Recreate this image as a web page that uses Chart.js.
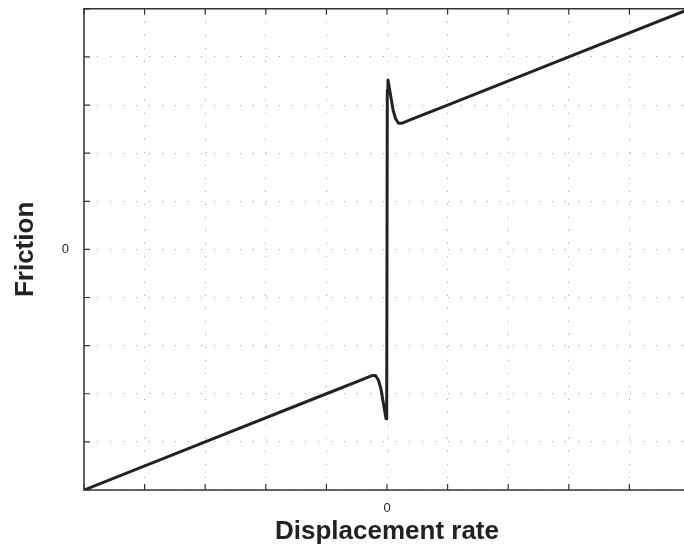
<!DOCTYPE html>
<html>
<head>
<meta charset="utf-8">
<script src="https://cdn.jsdelivr.net/npm/chart.js@4.4.0/dist/chart.umd.min.js"></script>
<style>
    html, body { margin: 0; padding: 0; background: #fff; overflow: hidden; }
    #wrap { position: relative; top: -14px; width: 701px; height: 563px; }
</style>
</head>
<body>
<div id="wrap"><canvas id="chart"></canvas></div>
<script>
// displacement rate (x) and friction (y)
const rateValues = [-5, -3, -1, -0.4, -0.24, -0.19, -0.14, -0.1, -0.066, -0.035, -0.016, -0.005,
    0.005, 0.016, 0.035, 0.066, 0.1, 0.14, 0.19, 0.24, 0.4, 1, 3, 5];
const frictionValues = [-5, -4, -3, -2.7, -2.62, -2.62, -2.72, -2.9, -3.15, -3.38, -3.52, -3.3,
    3.3, 3.52, 3.38, 3.15, 2.9, 2.72, 2.62, 2.62, 2.7, 3, 4, 5];
const tickLabelsX = { 0: "0" };
const tickLabelsY = { 0: "0" };

const points = [];
for (let i = 0; i < rateValues.length; i++) {
    points.push({ x: rateValues[i], y: frictionValues[i] });
}

// MATLAB style tick marks pointing into the plot, plus the box lines
const insideTicks = {
    id: "insideTicks",
    afterDatasetsDraw(chart) {
        const ctx = chart.ctx;
        const area = chart.chartArea;
        const xs = chart.scales.x;
        const ys = chart.scales.y;
        ctx.save();
        ctx.setLineDash([]);
        ctx.strokeStyle = "#333";
        ctx.lineWidth = 1.2;
        ctx.beginPath();
        xs.ticks.forEach((t) => {
            const px = xs.getPixelForValue(t.value);
            ctx.moveTo(px, area.bottom);
            ctx.lineTo(px, area.bottom - 6);
            ctx.moveTo(px, area.top);
            ctx.lineTo(px, area.top + 6);
        });
        ys.ticks.forEach((t) => {
            const py = ys.getPixelForValue(t.value);
            ctx.moveTo(area.left, py);
            ctx.lineTo(area.left + 6, py);
        });
        ctx.stroke();
        ctx.lineWidth = 1.5;
        ctx.beginPath();
        ctx.moveTo(area.right, area.top);
        ctx.lineTo(area.left, area.top);
        ctx.lineTo(area.left, area.bottom);
        ctx.lineTo(area.right, area.bottom);
        ctx.stroke();
        ctx.restore();
    },
};

const gridStyle = {
    color: "#999",
    lineWidth: 1,
    drawTicks: false,
};
const borderStyle = { display: false, dash: [1, 12] };
const tickFont = { family: "Liberation Sans, Arial, sans-serif", size: 13 };
const titleFont = { family: "Liberation Sans, Arial, sans-serif", size: 26, weight: "bold" };

new Chart(document.getElementById("chart"), {
    type: "scatter",
    data: {
        datasets: [
            {
                data: points,
                showLine: true,
                borderColor: "#222",
                borderWidth: 3,
                borderJoinStyle: "round",
                pointRadius: 0,
                tension: 0,
            },
        ],
    },
    options: {
        responsive: true,
        maintainAspectRatio: false,
        animation: false,
        layout: { padding: 0 },
        plugins: {
            legend: { display: false },
            tooltip: { enabled: false },
        },
        scales: {
            x: {
                type: "linear",
                min: -5,
                max: 5,
                border: borderStyle,
                grid: gridStyle,
                ticks: {
                    stepSize: 1,
                    padding: 11,
                    color: "#222",
                    font: tickFont,
                    maxRotation: 0,
                    autoSkip: false,
                    callback: (v) => tickLabelsX[v] || "",
                },
                title: {
                    display: true,
                    text: "Displacement rate",
                    color: "#222",
                    font: titleFont,
                    padding: { top: 2, bottom: 2 },
                },
                afterFit: (scale) => { scale.height = 59; },
            },
            y: {
                type: "linear",
                min: -5,
                max: 5,
                border: borderStyle,
                grid: gridStyle,
                ticks: {
                    stepSize: 1,
                    padding: 15,
                    color: "#222",
                    font: tickFont,
                    autoSkip: false,
                    callback: (v) => tickLabelsY[v] || "",
                },
                title: {
                    display: true,
                    text: "Friction",
                    color: "#222",
                    font: titleFont,
                    padding: { top: 10, bottom: 4 },
                },
                afterFit: (scale) => { scale.width = 84; },
            },
        },
    },
    plugins: [insideTicks],
});
</script>
</body>
</html>
